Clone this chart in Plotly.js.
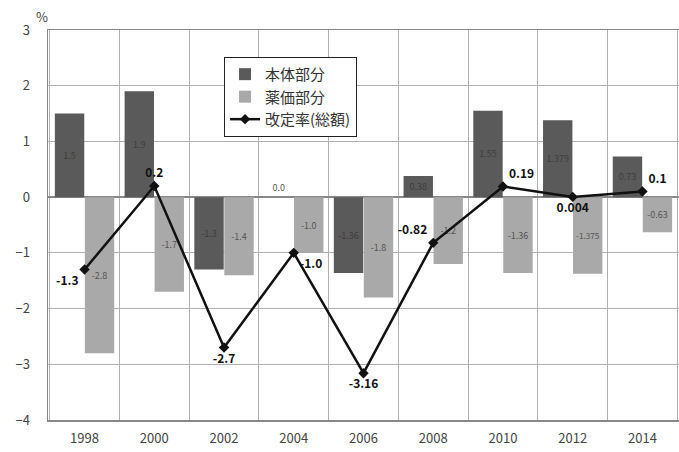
<!DOCTYPE html>
<html>
<head>
<meta charset="utf-8">
<script src="https://cdn.plot.ly/plotly-3.0.1.min.js"></script>
<style>html,body{margin:0;padding:0;background:#fff;}#chart{width:679px;height:452px;}</style>
</head>
<body>
<div id="chart"></div>
<script>
var years = ['1998','2000','2002','2004','2006','2008','2010','2012','2014'];
var honTai = [1.5, 1.9, -1.3, 0.0, -1.36, 0.38, 1.55, 1.379, 0.73];
var yakka = [-2.8, -1.7, -1.4, -1.0, -1.8, -1.2, -1.36, -1.375, -0.63];
var total = [-1.3, 0.2, -2.7, -1.0, -3.16, -0.82, 0.19, 0.004, 0.1];
var honTaiLabels = ['1.5','1.9','-1.3','0.0','-1.36','0.38','1.55','1.379','0.73'];
var yakkaLabels = ['-2.8','-1.7','-1.4','-1.0','-1.8','-1.2','-1.36','-1.375','-0.63'];
var totalLabels = ['-1.3','0.2','-2.7','-1.0','-3.16','-0.82','0.19','0.004','0.1'];
var seriesNames = ['本体部分','薬価部分','改定率(総額)'];

var jp = '"Noto Sans CJK JP", "Noto Sans", sans-serif';

var traces = [
  {
    type: 'bar', name: seriesNames[0], x: years, y: honTai,
    marker: {color: '#5a5a5a'},
    text: honTaiLabels,
    textposition: honTai.map(function(v){ return v === 0 ? 'outside' : 'inside'; }),
    insidetextanchor: 'middle', textangle: 0,
    textfont: {size: 9, color: '#3e3e3e', family: jp},
    outsidetextfont: {size: 9, color: '#555', family: jp},
    hoverinfo: 'none', cliponaxis: false
  },
  {
    type: 'bar', name: seriesNames[1], x: years, y: yakka,
    marker: {color: '#a9a9a9'},
    text: yakkaLabels, textposition: 'inside',
    insidetextanchor: 'middle', textangle: 0,
    textfont: {size: 9, color: '#555', family: jp},
    hoverinfo: 'none'
  },
  {
    type: 'scatter', mode: 'lines+markers+text', name: seriesNames[2],
    x: years, y: total,
    line: {color: '#111', width: 2.5},
    marker: {symbol: 'diamond', size: 8, color: '#111'},
    text: totalLabels,
    textposition: ['bottom left','top center','bottom center','bottom right','bottom center','top left','top right','bottom center','top right'],
    textfont: {size: 12, color: '#111', family: jp, weight: 'bold'},
    hoverinfo: 'none', cliponaxis: false
  }
];

var layout = {
  width: 679, height: 452,
  margin: {l: 48, r: 0, t: 30, b: 32},
  paper_bgcolor: '#fff', plot_bgcolor: '#fff',
  barmode: 'group', bargap: 0.14, bargroupgap: 0.02,
  showlegend: true,
  legend: {
    x: 0.279, y: 0.931, xanchor: 'left', yanchor: 'top',
    bgcolor: '#fff', bordercolor: '#222', borderwidth: 1,
    font: {size: 15, color: '#333', family: jp},
    tracegroupgap: 0, itemwidth: 30
  },
  xaxis: {
    type: 'category', tickson: 'boundaries',
    showgrid: true, gridcolor: '#b0b0b0', gridwidth: 1,
    showline: true, linecolor: '#888', linewidth: 1.5, mirror: true,
    ticks: '', ticklabelstandoff: 6,
    tickfont: {size: 13, color: '#444', family: jp}
  },
  yaxis: {
    range: [-4, 3], dtick: 1, tick0: 0,
    showgrid: true, gridcolor: '#b0b0b0', gridwidth: 1,
    zeroline: true, zerolinecolor: '#888', zerolinewidth: 1.5,
    showline: true, linecolor: '#888', linewidth: 1.5, mirror: true,
    ticks: '', ticklabelstandoff: 14,
    tickfont: {size: 13, color: '#444', family: jp}
  },
  annotations: [
    {text: '%', xref: 'paper', yref: 'paper', x: -0.01, y: 1.005, xanchor: 'center', yanchor: 'bottom',
     showarrow: false, font: {size: 13, color: '#444', family: jp}}
  ]
};

Plotly.newPlot('chart', traces, layout, {displayModeBar: false, staticPlot: true});
</script>
</body>
</html>
